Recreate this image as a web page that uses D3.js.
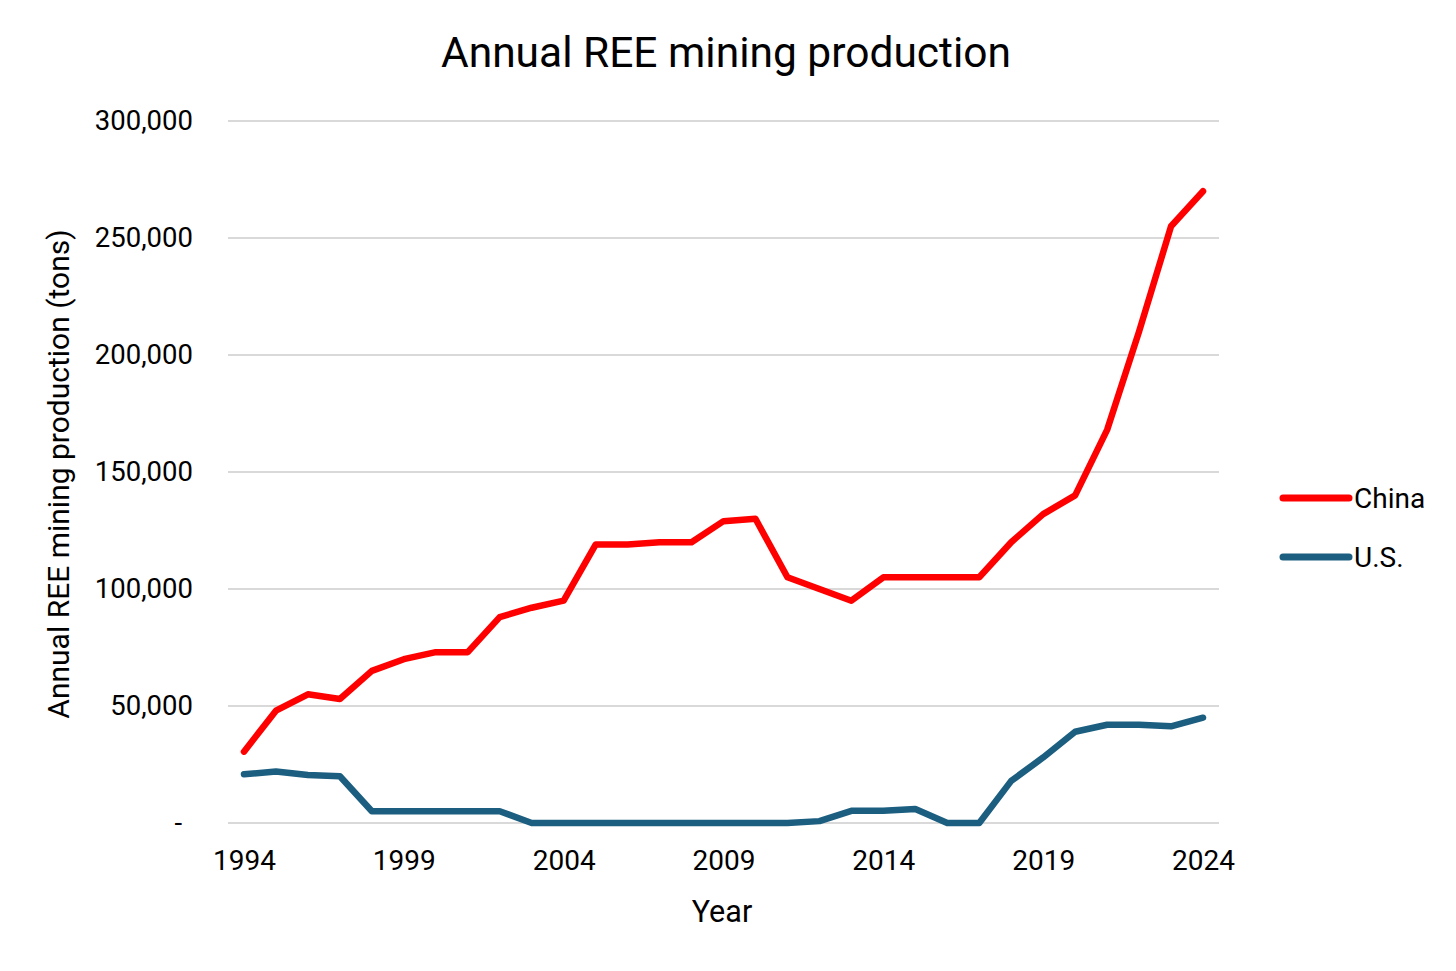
<!DOCTYPE html>
<html>
<head>
<meta charset="utf-8">
<script src="https://cdn.jsdelivr.net/npm/d3@7"></script>
<style>
  html, body { margin: 0; padding: 0; background: #fff; }
  svg { display: block; font-family: Roboto, "Open Sans", sans-serif; }
</style>
</head>
<body>
<svg id="chart" width="1456" height="971"></svg>
<script>
const years = [1994,1995,1996,1997,1998,1999,2000,2001,2002,2003,2004,2005,2006,2007,2008,2009,2010,2011,2012,2013,2014,2015,2016,2017,2018,2019,2020,2021,2022,2023,2024];
const chinaValues = [30500,48000,55000,53000,65000,70000,73000,73000,88000,92000,95000,119000,119000,120000,120000,129000,130000,105000,100000,95000,105000,105000,105000,105000,120000,132000,140000,168000,210000,255000,270000];
const usValues = [20800,22000,20500,20000,5000,5000,5000,5000,5000,0,0,0,0,0,0,0,0,0,800,5200,5200,6000,0,0,18000,28000,39000,42000,42000,41300,45000];
const yTicks = [0,50000,100000,150000,200000,250000,300000];
const xTickYears = [1994,1999,2004,2009,2014,2019,2024];
const seriesNames = ["China","U.S."];
const seriesColors = ["#FF0000","#1B5E80"];

(function () {
const svg = d3.select("#chart");
const pLeft = 228, pRight = 1219, pTop = 121, pBottom = 823;

const x = d3.scalePoint().domain(years).range([pLeft, pRight]).padding(0.5);
const y = d3.scaleLinear().domain([0, 300000]).range([pBottom, pTop]);

// gridlines
svg.append("g").selectAll("line").data(yTicks).join("line")
  .attr("x1", pLeft).attr("x2", pRight)
  .attr("y1", d => y(d)).attr("y2", d => y(d))
  .attr("stroke", "#D9D9D9").attr("stroke-width", 2);

// y axis labels
const fmt = d3.format(",");
const yAxis = d3.axisLeft(y).tickValues(yTicks).tickSize(0).tickPadding(0)
  .tickFormat(d => d === 0 ? "-" : fmt(d));
const yg = svg.append("g").attr("transform", `translate(${pLeft - 35},0)`).call(yAxis);
yg.select(".domain").remove();
yg.selectAll("text").attr("font-size", 27.5).attr("fill", "#000").attr("font-family", "Roboto, sans-serif");
yg.selectAll(".tick").filter(d => d === 0).select("text").attr("dx", -11);

// x axis labels
const xAxis = d3.axisBottom(x).tickValues(xTickYears).tickSize(0).tickPadding(0);
const xg = svg.append("g").attr("transform", `translate(0,${pBottom + 27})`).call(xAxis);
xg.select(".domain").remove();
xg.selectAll("text").attr("font-size", 28).attr("fill", "#000").attr("font-family", "Roboto, sans-serif");

// lines
const series = [chinaValues, usValues];
const line = d3.line().x((d, i) => x(years[i])).y(d => y(d));
svg.append("g").selectAll("path").data(series).join("path")
  .attr("d", d => line(d))
  .attr("fill", "none")
  .attr("stroke", (d, i) => seriesColors[i])
  .attr("stroke-width", 6.5)
  .attr("stroke-linejoin", "round")
  .attr("stroke-linecap", "round");

// title
svg.append("text").attr("x", 726).attr("y", 67).attr("text-anchor", "middle")
  .attr("font-size", 42.5).attr("fill", "#000").text("Annual REE mining production");

// axis titles
svg.append("text").attr("x", 722).attr("y", 922).attr("text-anchor", "middle")
  .attr("font-size", 30.5).attr("fill", "#000").text("Year");
svg.append("text").attr("transform", "translate(69,474) rotate(-90)").attr("text-anchor", "middle")
  .attr("font-size", 30).attr("fill", "#000").text("Annual REE mining production (tons)");

// legend
const legendY = [498, 557];
const lg = svg.append("g").selectAll("g").data(seriesNames).join("g")
  .attr("transform", (d, i) => `translate(0,${legendY[i]})`);
lg.append("line").attr("x1", 1283).attr("x2", 1349).attr("y1", 0).attr("y2", 0)
  .attr("stroke", (d, i) => seriesColors[i]).attr("stroke-width", 7).attr("stroke-linecap", "round");
lg.append("text").attr("x", 1354).attr("y", 10).attr("font-size", 28).attr("fill", "#000").text(d => d);
})();
</script>
</body>
</html>
